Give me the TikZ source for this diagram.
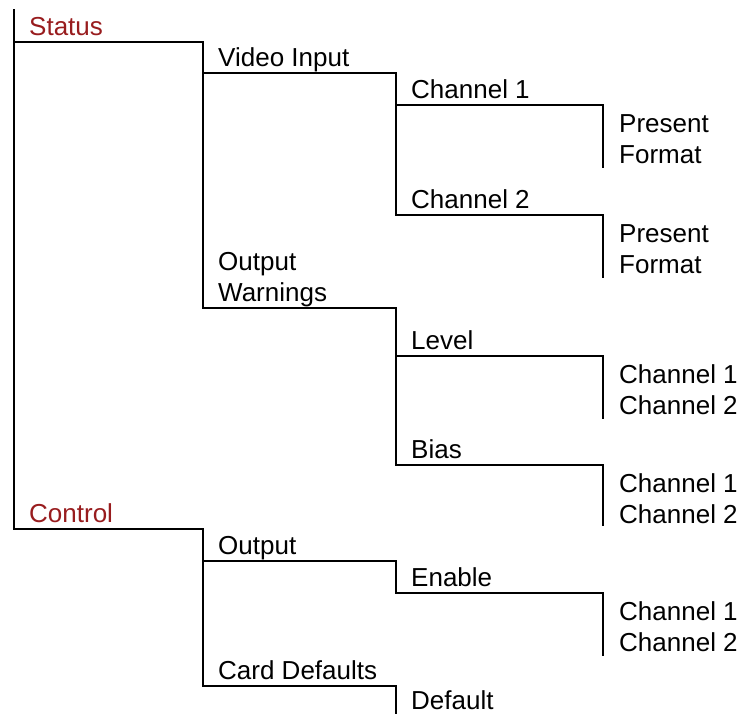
\documentclass[tikz,border=0pt]{standalone}
\usepackage{fontspec}
\setmainfont{Liberation Sans}
\definecolor{headred}{RGB}{152,28,30}
\begin{document}
\begin{tikzpicture}[x=1pt,y=-1pt,
  tree/.style={line width=2.6pt,line join=miter,line cap=rect},
  lbl/.style={anchor=base west,inner sep=0pt,align=left,
    font=\fontsize{26}{31}\selectfont},
  head/.style={lbl,text=headred}]
\useasboundingbox (0,0) rectangle (741,713);

% column positions of the vertical rails
\def\ca{14}\def\cb{203}\def\cc{396}\def\cd{603}

% corner points of the menu tree
\coordinate (top)      at (\ca,10);
\coordinate (status)   at (\ca,42);
\coordinate (video)    at (\cb,73);
\coordinate (ch1)      at (\cc,105);
\coordinate (ch2)      at (\cc,215);
\coordinate (warn)     at (\cb,308);
\coordinate (level)    at (\cc,356);
\coordinate (bias)     at (\cc,465);
\coordinate (control)  at (\ca,529);
\coordinate (output)   at (\cb,561);
\coordinate (enable)   at (\cc,593);
\coordinate (defaults) at (\cb,686);
\coordinate (bottom)   at (\cc,713);

% labels (multi-line labels are placed by their last baseline)
\node[head] (tStatus)   at (29,35)   {Status};
\node[lbl]  (tVideo)    at (218,66)  {Video Input};
\node[lbl]  (tCh1)      at (411,98)  {Channel 1};
\node[lbl]  (lCh1)      at (619,163) {Present\\Format};
\node[lbl]  (tCh2)      at (411,208) {Channel 2};
\node[lbl]  (lCh2)      at (619,273) {Present\\Format};
\node[lbl]  (tWarn)     at (218,301) {Output\\Warnings};
\node[lbl]  (tLevel)    at (411,349) {Level};
\node[lbl]  (lLevel)    at (619,414) {Channel 1\\Channel 2};
\node[lbl]  (tBias)     at (411,458) {Bias};
\node[lbl]  (lBias)     at (619,523) {Channel 1\\Channel 2};
\node[head] (tControl)  at (29,522)  {Control};
\node[lbl]  (tOutput)   at (218,554) {Output};
\node[lbl]  (tEnable)   at (411,586) {Enable};
\node[lbl]  (lEnable)   at (619,651) {Channel 1\\Channel 2};
\node[lbl]  (tDefaults) at (218,679) {Card Defaults};
\node[lbl]  (tDefault)  at (411,709) {Default};

% tree rails
\draw[tree] (top) -- (control);
\draw[tree] (status) -- (status -| \cb,0) -- (warn);
\draw[tree] (video) -- (video -| \cc,0) -- (ch2);
\draw[tree] (ch1) -- (ch1 -| \cd,0) -- (\cd,167);
\draw[tree] (ch2) -- (ch2 -| \cd,0) -- (\cd,277);
\draw[tree] (warn) -- (warn -| \cc,0) -- (bias);
\draw[tree] (level) -- (level -| \cd,0) -- (\cd,418);
\draw[tree] (bias) -- (bias -| \cd,0) -- (\cd,525);
\draw[tree] (control) -- (control -| \cb,0) -- (defaults);
\draw[tree] (output) -- (output -| \cc,0) -- (enable);
\draw[tree] (enable) -- (enable -| \cd,0) -- (\cd,655);
\draw[tree] (defaults) -- (defaults -| \cc,0) -- (bottom);
\end{tikzpicture}
\end{document}
